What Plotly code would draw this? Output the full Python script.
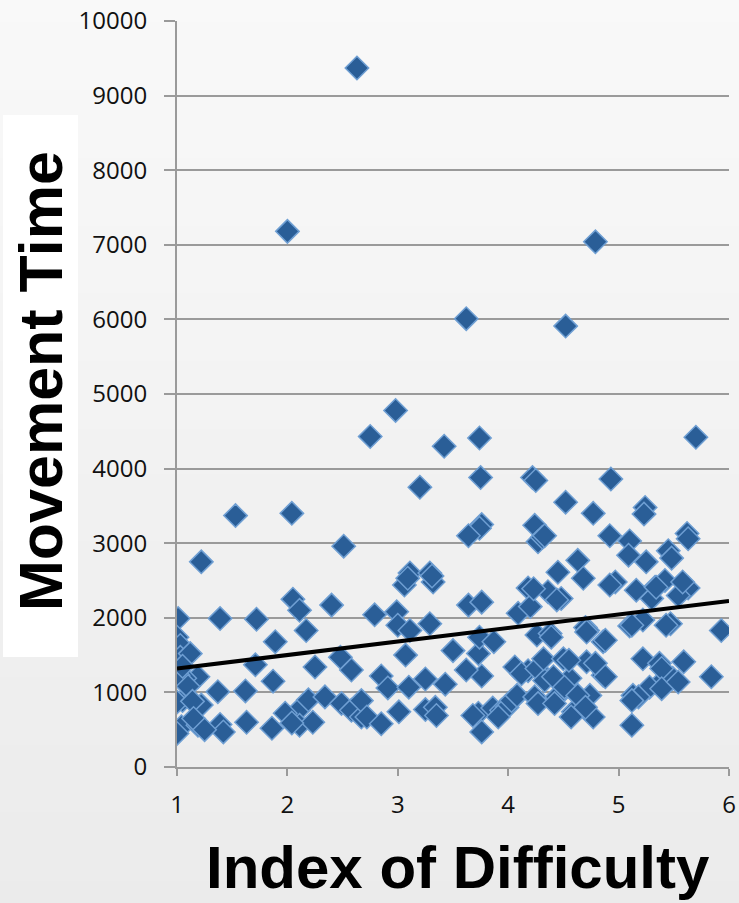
import plotly.graph_objects as go

# Index of Difficulty (x) and Movement Time (y)
index_of_difficulty = [
    2.63, 2.00, 4.79, 3.62, 4.52, 2.98, 2.75, 3.42, 3.74, 5.70,
    3.75, 4.22, 4.25, 4.93, 3.20, 4.52, 4.77, 5.24, 5.23,
    1.53, 2.04, 1.22, 2.51,
    3.76, 3.74, 3.64, 4.24, 4.27, 4.31, 4.33, 4.92, 5.10, 5.62, 5.63,
    5.09, 5.25, 5.45, 5.48,
    4.63, 4.45, 4.68, 4.97, 5.33, 5.42, 5.63, 5.54, 5.30, 4.48, 4.36, 5.58, 5.16, 5.34,
    3.11, 3.29, 3.06, 3.32, 3.09, 3.31,
    2.79, 2.99, 3.64, 3.76, 4.18, 4.09, 4.20, 4.23, 4.44,
    3.29, 3.00, 3.11,
    4.70, 5.10, 5.47, 5.93, 5.22, 4.72,
    1.01, 1.39, 1.72, 2.05, 2.11, 2.40, 2.17, 1.89, 1.00, 1.03, 1.03, 1.12, 1.71, 1.19,
    1.07, 1.01, 1.87, 2.25, 2.48, 2.58, 1.37, 1.62, 1.05, 1.22, 1.00, 2.10, 1.98, 2.19,
    2.34, 2.49, 2.58, 2.67, 1.04, 1.00, 1.19, 1.39, 1.42, 1.63, 1.86, 2.11, 2.23, 2.04,
    1.10, 1.14, 1.05, 1.15, 1.25,
    3.07, 2.85, 2.91, 3.10, 3.25, 3.43, 2.67, 2.72, 2.85, 3.01, 3.25, 3.34, 3.35, 3.50,
    3.73, 3.76, 3.62, 3.73, 3.76, 3.68, 3.86, 3.94, 3.99, 4.06, 4.03, 4.08, 4.18, 4.12,
    4.26, 4.33, 4.24, 4.27, 3.91, 3.74, 3.87,
    4.26, 4.38, 4.39, 4.32, 4.50, 4.56, 4.41, 4.44, 4.59, 4.77, 4.74, 4.71, 4.86, 4.71,
    4.86, 4.92, 4.55, 4.79, 4.88, 4.51, 4.63, 4.42, 4.57, 4.70, 4.88,
    5.22, 5.37, 5.59, 5.40, 5.28, 5.13, 5.12, 5.84, 5.49, 5.39, 5.39, 5.18, 5.12, 5.54,
    5.12, 5.43,
]
movement_time = [
    9370, 7180, 7040, 6010, 5910, 4780, 4430, 4300, 4410, 4420,
    3880, 3880, 3840, 3860, 3750, 3550, 3400, 3480, 3390,
    3370, 3400, 2750, 2960,
    3250, 3200, 3100, 3240, 3020, 3080, 3100, 3100, 3030, 3130, 3060,
    2840, 2750, 2900, 2800,
    2770, 2610, 2530, 2480, 2410, 2500, 2400, 2300, 2260, 2260, 2350, 2480, 2370, 2410,
    2600, 2600, 2440, 2480, 2530, 2560,
    2040, 2080, 2170, 2210, 2400, 2060, 2150, 2390, 2240,
    1920, 1900, 1830,
    1870, 1890, 1920, 1830, 1970, 1830,
    1990, 1990, 1980, 2250, 2100, 2170, 1830, 1680, 1740, 1630, 1470, 1520, 1370, 1210,
    1190, 1230, 1150, 1340, 1470, 1300, 1010, 1020, 890, 830, 870, 760, 720, 900,
    940, 850, 760, 670, 540, 450, 560, 570, 470, 600, 520, 560, 600, 590,
    1080, 880, 1350, 650, 500,
    1500, 1220, 1060, 1070, 1180, 1110, 890, 670, 580, 740, 770, 800, 690, 1560,
    1520, 1220, 1300, 720, 470, 690, 790, 760, 800, 1340, 890, 960, 1290, 1250,
    1320, 1160, 940, 850, 670, 1740, 1680,
    1770, 1790, 1740, 1450, 1450, 1190, 1210, 940, 740, 670, 960, 1810, 1680, 1410,
    1230, 2440, 1430, 1390, 1210, 1070, 960, 850, 670, 800, 1700,
    1450, 1390, 1410, 1160, 1070, 960, 560, 1210, 1190, 1320, 1050, 940, 890, 1140,
    1900, 1900,
]

trend_x = [1, 6]
trend_y = [1320, 2225]

x_ticks = [1, 2, 3, 4, 5, 6]
y_ticks = [0, 1000, 2000, 3000, 4000, 5000, 6000, 7000, 8000, 9000, 10000]
y_tick_labels = ["0", "1000", "2000", "3000", "4000", "5000",
                 "6000", "7000", "8000", "9000", "10000"]

W, H = 739, 903
L, R, T, B = 177, 10, 21, 136
plot_h = H - T - B

def py_to_paper(py):
    return (H - B - py) / plot_h

def px_to_paper(px):
    return (px - L) / (W - L - R)

fig = go.Figure()

fig.add_trace(go.Scatter(
    x=index_of_difficulty, y=movement_time, mode="markers",
    marker=dict(symbol="diamond", size=18, color="#2a5e97",
                line=dict(color="#6f9fd3", width=1.5)),
    showlegend=False, hoverinfo="x+y",
))
fig.add_trace(go.Scatter(
    x=trend_x, y=trend_y, mode="lines",
    line=dict(color="black", width=4), showlegend=False, hoverinfo="skip",
))

# gradient background as stacked bands
shapes = []
n = 40
top = (249, 249, 249)
bot = (235, 235, 235)
for i in range(n):
    y0px = H * i / n
    y1px = H * (i + 1) / n
    t = (i + 0.5) / n
    c = tuple(round(top[k] + (bot[k] - top[k]) * t) for k in range(3))
    shapes.append(dict(type="rect", xref="paper", yref="paper",
                       x0=px_to_paper(-5), x1=px_to_paper(W + 5),
                       y0=py_to_paper(y1px + 1), y1=py_to_paper(y0px),
                       fillcolor="rgb(%d,%d,%d)" % c, line=dict(width=0),
                       layer="below"))
# white box behind y title
shapes.append(dict(type="rect", xref="paper", yref="paper",
                   x0=px_to_paper(3), x1=px_to_paper(78),
                   y0=py_to_paper(657), y1=py_to_paper(115),
                   fillcolor="white", line=dict(width=0), layer="below"))

fig.update_layout(
    width=W, height=H, autosize=False,
    margin=dict(l=L, r=R, t=T, b=B, autoexpand=False),
    paper_bgcolor="#f2f2f2", plot_bgcolor="rgba(0,0,0,0)",
    shapes=shapes,
    font=dict(family="Open Sans", color="#111111"),
    xaxis=dict(range=[1, 6], tickvals=x_ticks, showgrid=False, zeroline=False,
               automargin=False,
               showline=True, linecolor="#9a9a9a", linewidth=2,
               ticks="outside", ticklen=7, tickwidth=2, tickcolor="#9a9a9a",
               tickfont=dict(family="Open Sans", size=24, color="#111111"),
               ticklabelstandoff=8),
    yaxis=dict(range=[0, 10000], tickvals=y_ticks, ticktext=y_tick_labels,
               automargin=False,
               showgrid=True, gridcolor="#9a9a9a", gridwidth=1.5, zeroline=False,
               showline=True, linecolor="#9a9a9a", linewidth=2,
               ticks="outside", ticklen=11, tickwidth=1.5, tickcolor="#9a9a9a",
               tickfont=dict(family="Open Sans", size=24, color="#111111"),
               ticklabelstandoff=12),
    annotations=[
        dict(text="<b>Movement Time</b>", textangle=-90, showarrow=False,
             xref="paper", yref="paper", x=px_to_paper(41), y=py_to_paper(381),
             xanchor="center", yanchor="middle",
             font=dict(family="Liberation Sans, Arial", size=61, color="black")),
        dict(text="<b>Index of Difficulty</b>", showarrow=False,
             xref="paper", yref="paper", x=px_to_paper(458), y=py_to_paper(867),
             xanchor="center", yanchor="middle",
             font=dict(family="Liberation Sans, Arial", size=60, color="black")),
    ],
)

fig.write_html("out.html", config={"displayModeBar": False},
               post_script="document.body.style.margin='0';document.body.style.overflow='hidden';")
